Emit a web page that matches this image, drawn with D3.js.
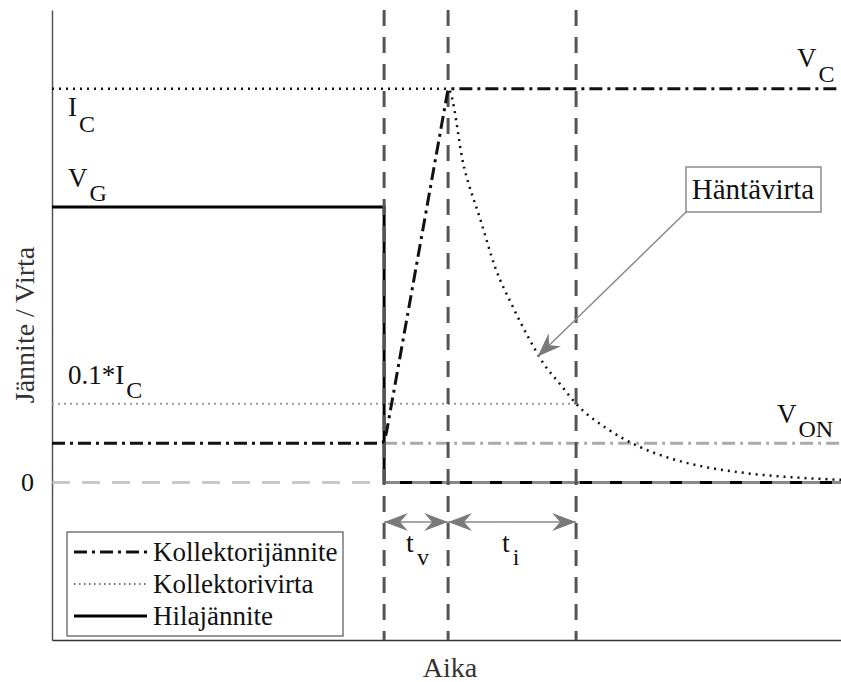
<!DOCTYPE html>
<head>
  <meta charset="utf-8">
  <script src="https://d3js.org/d3.v7.min.js"></script>
  <style>
    body { margin: 0; background: #fff; }
    svg { width: 841px; height: 682px; display: block; }
  </style>
</head>

<body>
  <svg></svg>
  <script>
    // time in units of t_v (0 = gate switched off), values relative to I_C / V_C
    var tOff = 0, tvEnd = 1, tiEnd = 3;
    var VC = 1.0, IC = 1.0, VG = 0.7, IC10 = 0.2, VON = 0.1;

    var collectorVoltage = [[-5.19, 0.1], [-0.08, 0.1], [-0.02, 0.102], [0.01, 0.11], [0.04, 0.13], [1.0, 1.0], [7.14, 1.0]];
    var collectorCurrent = [[-5.19, 1.0], [1.0, 1.0], [1.25, 0.80], [1.5, 0.67], [1.75, 0.54], [2.0, 0.45], [2.25, 0.37],
      [2.5, 0.30], [2.75, 0.25], [3.0, 0.20], [3.5, 0.135], [4.0, 0.09], [4.5, 0.06], [5.0, 0.04],
      [5.5, 0.027], [6.0, 0.018], [6.5, 0.012], [7.14, 0.007]];
    var gateVoltage = [[-5.19, 0.7], [0, 0.7], [0, 0], [7.14, 0]];

    var legendLabels = ['Kollektorijännite', 'Kollektorivirta', 'Hilajännite'];
    var intervals = [{from: tOff, to: tvEnd, sub: 'v'}, {from: tvEnd, to: tiEnd, sub: 'i'}];
    var tailPoint = [2.4, 0.32];

    var serif = "'Liberation Serif'";
    var svg = d3.select('svg').style('font-family', serif);
    var x = d3.scaleLinear().domain([-5.19, 7.14]).range([52, 841]);
    var y = d3.scaleLinear().domain([-0.4, 1.2]).range([640, 10]);
    var line = d3.line().x(function(d) { return x(d[0]); }).y(function(d) { return y(d[1]); });

    var defs = svg.append('defs');
    defs.append('marker')
      .attr('id', 'head')
      .attr('markerUnits', 'userSpaceOnUse')
      .attr('viewBox', '0 -10 24 20')
      .attr('markerWidth', 24).attr('markerHeight', 20)
      .attr('refX', 24).attr('refY', 0)
      .attr('orient', 'auto-start-reverse')
      .append('path')
      .attr('d', 'M0,-9L24,0L0,9L8,0Z')
      .attr('fill', '#7a7a7a');

    // axes
    var yAxis = svg.append('g')
      .attr('transform', 'translate(' + x.range()[0] + ',0)')
      .call(d3.axisLeft(y).tickValues([0]).tickFormat(d3.format('d')).tickSize(0).tickSizeOuter(0).tickPadding(18));
    yAxis.select('.domain').attr('stroke', '#555').attr('stroke-width', 1.5);
    yAxis.selectAll('text').attr('fill', '#111')
      .style('font-family', serif).style('font-size', '26px');

    var xAxis = svg.append('g')
      .attr('transform', 'translate(0,' + y.range()[0] + ')')
      .call(d3.axisBottom(x).tickValues([]).tickSizeOuter(0));
    xAxis.select('.domain').attr('stroke', '#333').attr('stroke-width', 1.5);

    // reference levels
    svg.append('path')
      .attr('d', line([[x.domain()[0], IC10], [tiEnd, IC10]]))
      .attr('stroke', '#9a9a9a').attr('stroke-width', 2).attr('stroke-dasharray', '2,4').attr('fill', 'none');
    svg.append('path')
      .attr('d', line([[tOff, VON], [x.domain()[1], VON]]))
      .attr('stroke', '#aaaaaa').attr('stroke-width', 3).attr('stroke-dasharray', '13,5,3,5').attr('fill', 'none');

    // gate voltage
    svg.append('path')
      .attr('d', line(gateVoltage))
      .attr('stroke', '#000').attr('stroke-width', 3).attr('fill', 'none');

    // zero line
    svg.append('path')
      .attr('d', line([[x.domain()[0], 0], [x.domain()[1], 0]]))
      .attr('stroke', 'rgb(181,181,181)').attr('stroke-opacity', 0.75)
      .attr('stroke-width', 3).attr('stroke-dasharray', '18,12').attr('fill', 'none');

    // event markers
    svg.selectAll('line.event')
      .data([tOff, tvEnd, tiEnd]).enter().append('line')
      .classed('event', true)
      .attr('x1', function(d) { return x(d); }).attr('x2', function(d) { return x(d); })
      .attr('y1', y.range()[1]).attr('y2', y.range()[0])
      .attr('stroke', '#555').attr('stroke-width', 3).attr('stroke-dasharray', '16,11');

    // collector current and voltage
    svg.append('path')
      .attr('d', line.curve(d3.curveMonotoneX)(collectorCurrent))
      .attr('stroke', '#111').attr('stroke-width', 2.5).attr('stroke-dasharray', '2,5').attr('fill', 'none');
    line.curve(d3.curveLinear);
    svg.append('path')
      .attr('d', line(collectorVoltage))
      .attr('stroke', '#111').attr('stroke-width', 3).attr('stroke-dasharray', '13,5,3,5').attr('fill', 'none');

    // interval arrows
    var arrowY = 522;
    svg.selectAll('line.span')
      .data(intervals).enter().append('line')
      .classed('span', true)
      .attr('x1', function(d) { return x(d.from); }).attr('x2', function(d) { return x(d.to); })
      .attr('y1', arrowY).attr('y2', arrowY)
      .attr('stroke', '#8a8a8a').attr('stroke-width', 1.5)
      .attr('marker-start', 'url(#head)').attr('marker-end', 'url(#head)');

    var spanText = svg.selectAll('text.span')
      .data(intervals).enter().append('text')
      .classed('span', true)
      .attr('x', function(d) { return (x(d.from) + x(d.to)) / 2 - 10; })
      .attr('y', 552)
      .attr('fill', '#111')
      .style('font-family', serif).style('font-size', '28px');
    spanText.append('tspan').text('t');
    spanText.append('tspan').attr('dx', 3).attr('dy', 13).style('font-size', '24px').text(function(d) { return d.sub; });

    // level labels
    function label(px, py, main, sub, dy) {
      var t = svg.append('text').attr('x', px).attr('y', py).attr('fill', '#111')
        .style('font-family', serif).style('font-size', '27px');
      t.append('tspan').text(main);
      t.append('tspan').attr('dx', 2).attr('dy', dy).style('font-size', '24px').text(sub);
    }
    label(797, y(VC) - 22, 'V', 'C', 15);
    label(68, y(IC) + 27, 'I', 'C', 16);
    label(68, y(VG) - 20, 'V', 'G', 14);
    label(68, y(IC10) - 20, '0.1*I', 'C', 14);
    label(777, y(VON) - 20, 'V', 'ON', 14);

    // axis titles
    svg.append('text')
      .attr('x', 450).attr('y', 677)
      .attr('text-anchor', 'middle').attr('fill', '#333')
      .style('font-family', serif).style('font-size', '28px')
      .text('Aika');
    svg.append('text')
      .attr('transform', 'translate(34,' + ((y.range()[0] + y.range()[1]) / 2) + ')rotate(-90)')
      .attr('text-anchor', 'middle').attr('fill', '#333')
      .style('font-family', serif).style('font-size', '28px')
      .text('Jännite / Virta');

    // tail current callout
    svg.append('line')
      .attr('x1', 686).attr('y1', 212)
      .attr('x2', x(tailPoint[0])).attr('y2', y(tailPoint[1]))
      .attr('stroke', '#8a8a8a').attr('stroke-width', 1.5)
      .attr('marker-end', 'url(#head)');
    svg.append('rect')
      .attr('x', 686).attr('y', 167).attr('width', 135).attr('height', 45)
      .attr('fill', '#fff').attr('stroke', '#8a8a8a').attr('stroke-width', 1.5);
    svg.append('text')
      .attr('x', 753).attr('y', 199)
      .attr('text-anchor', 'middle').attr('fill', '#111')
      .style('font-family', serif).style('font-size', '29px')
      .text('Häntävirta');

    // legend
    var legend = svg.append('g').attr('transform', 'translate(67,532)');
    legend.append('rect')
      .attr('width', 276).attr('height', 104)
      .attr('fill', '#fff').attr('stroke', '#555').attr('stroke-width', 1.2);
    var styles = [
      {dash: '13,5,3,5', w: 3, c: '#111'},
      {dash: '1.5,3.5', w: 1.5, c: '#444'},
      {dash: null, w: 3, c: '#000'}
    ];
    var rows = legend.selectAll('g.row')
      .data(legendLabels).enter().append('g')
      .classed('row', true)
      .attr('transform', function(d, i) { return 'translate(0,' + (20 + i * 32) + ')'; });
    rows.append('line')
      .attr('x1', 7).attr('x2', 80)
      .attr('stroke', function(d, i) { return styles[i].c; })
      .attr('stroke-width', function(d, i) { return styles[i].w; })
      .attr('stroke-dasharray', function(d, i) { return styles[i].dash; });
    rows.append('text')
      .attr('x', 86).attr('y', 9).attr('fill', '#111')
      .style('font-family', serif).style('font-size', '27px')
      .text(function(d) { return d; });
  </script>
</body>
